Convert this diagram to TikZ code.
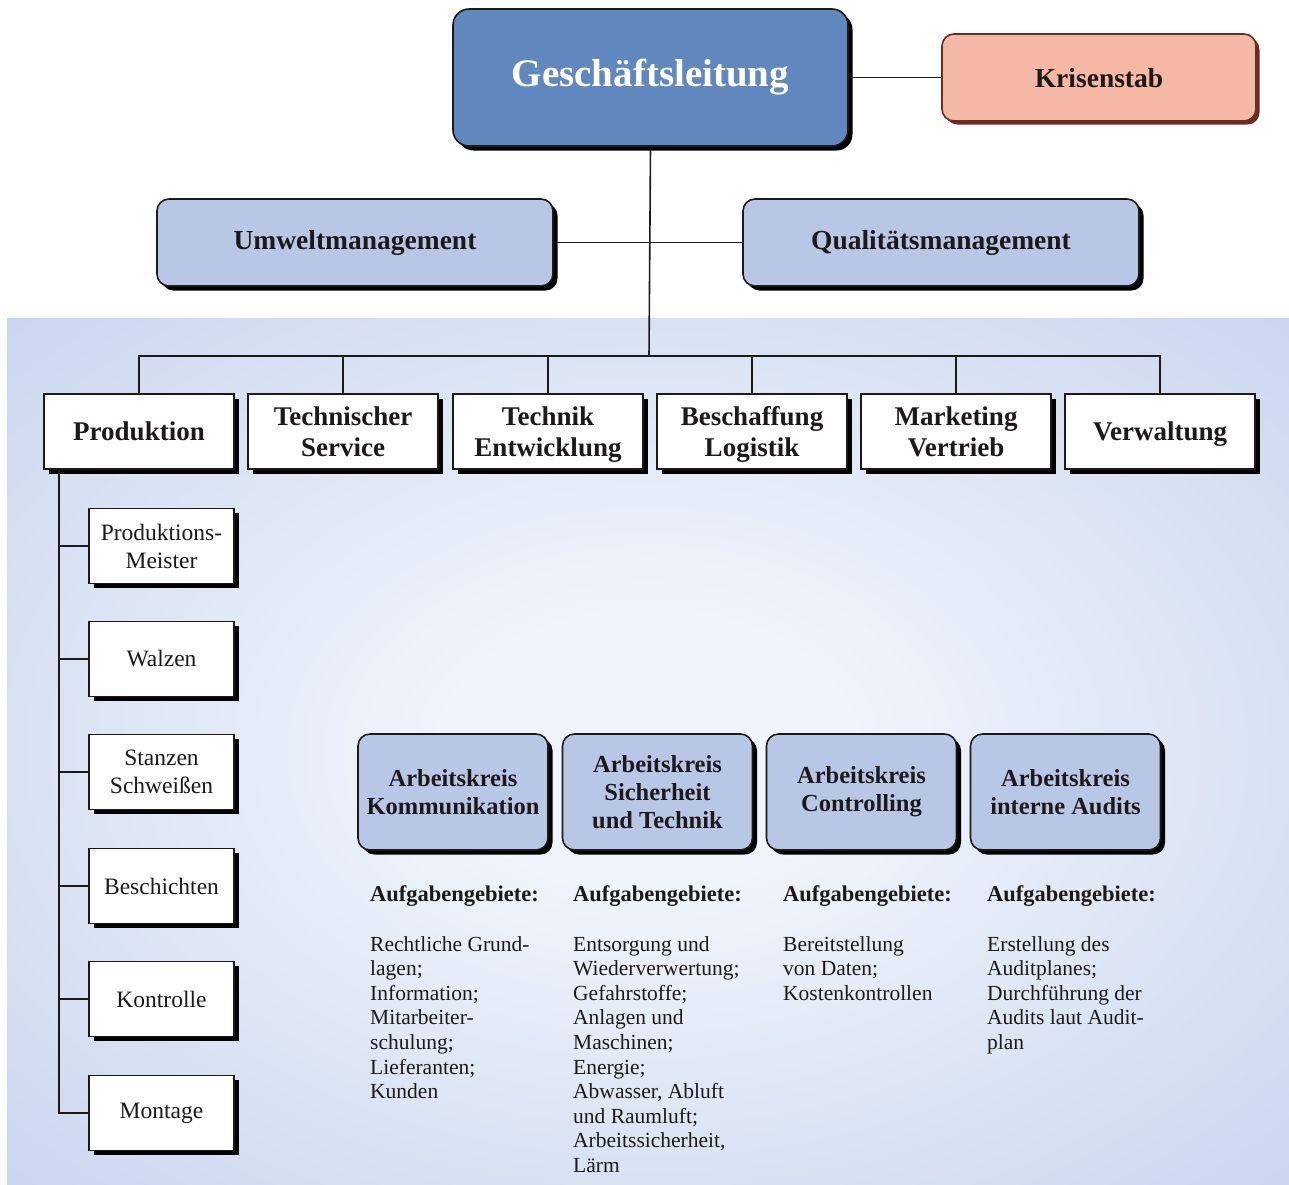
\documentclass[tikz,border=0pt]{standalone}
\usepackage{fontspec}
\setmainfont{Liberation Serif}
\usetikzlibrary{shadows}

\definecolor{glblue}{RGB}{96,136,191}
\definecolor{paleblue}{RGB}{185,199,231}
\definecolor{krisfill}{RGB}{244,184,164}
\definecolor{krisline}{RGB}{105,45,35}
\definecolor{bgedge}{RGB}{184,201,232}
\definecolor{bgcenter}{RGB}{240,244,251}
\definecolor{ink}{RGB}{30,25,25}

% soft panel behind the lower part of the chart
\pgfdeclareradialshading{panelshade}{\pgfpoint{0bp}{0bp}}{%
  color(0bp)=(bgcenter); color(8bp)=(bgcenter);
  color(48bp)=(bgedge); color(80bp)=(bgedge)}

\tikzset{
  shad/.style={drop shadow={shadow xshift=4.5pt, shadow yshift=-4.5pt,
                            fill=black, opacity=1}},
  boxline/.style={draw=ink, line width=1.6pt},
  conn/.style={draw=ink, line width=1.6pt},
  gltop/.style={boxline, shad, fill=glblue, rounded corners=16pt,
                minimum width=395pt, minimum height=137pt, text=white,
                font=\fontsize{39}{44}\selectfont\bfseries},
  krisbox/.style={draw=krisline, line width=1.6pt, fill=krisfill,
                  rounded corners=12pt,
                  drop shadow={shadow xshift=3.5pt, shadow yshift=-3.5pt,
                               fill=krisline, opacity=1},
                  minimum width=314pt, minimum height=87pt, text=ink,
                  font=\fontsize{27.5}{31}\selectfont\bfseries},
  staffbox/.style={boxline, shad, fill=paleblue, rounded corners=12pt,
                   minimum width=396pt, minimum height=87pt, text=ink,
                   font=\fontsize{27.5}{31}\selectfont\bfseries},
  deptbox/.style={boxline, shad, fill=white, align=center,
                  minimum width=190pt, minimum height=75pt, text=ink,
                  text depth=0pt,
                  font=\fontsize{27}{31}\selectfont\bfseries},
  subbox/.style={boxline, shad, fill=white, align=center,
                 minimum width=145pt, minimum height=75pt, text=ink,
                 font=\fontsize{23.5}{28}\selectfont},
  akbox/.style={boxline, shad, fill=paleblue, rounded corners=12pt,
                align=center, minimum width=190pt, minimum height=116pt,
                text=ink, font=\fontsize{24.5}{28}\selectfont\bfseries},
  taskhead/.style={anchor=base west, inner sep=0pt, text=ink,
                   font=\fontsize{22.5}{26}\selectfont\bfseries},
  tasklist/.style={anchor=north west, inner sep=0pt, align=left, text=ink,
                   font=\fontsize{21.5}{24.6}\selectfont},
}

\begin{document}
\begin{tikzpicture}[x=1pt,y=-1pt]
  \useasboundingbox (0,0) rectangle (1289,1184);
  \shade[shading=panelshade] (7,318) rectangle (1289,1184);

  % top management and staff units
  \node[gltop]    (gl)   at (650.5,77.5) {Geschäftsleitung};
  \node[krisbox, text depth=0pt] (kris) at (1099,77.5) {Krisenstab};
  \node[staffbox] (um)   at (355,242.5)  {Umweltmanagement};
  \node[staffbox] (qm)   at (941,242.5)  {Qualitätsmanagement};

  % departments
  \node[deptbox] (prod) at (139,431.5)  {Produktion};
  \node[deptbox] (ts)   at (343,431.5)  {Technischer\\Service};
  \node[deptbox] (te)   at (548,431.5)  {Technik\\Entwicklung};
  \node[deptbox] (bl)   at (752,431.5)  {Beschaffung\\Logistik};
  \node[deptbox] (mv)   at (956,431.5)  {Marketing\\Vertrieb};
  \node[deptbox] (vw)   at (1160,431.5) {Verwaltung};

  % production units
  \node[subbox] (pm) at (161.5,546)  {Produktions-\\Meister};
  \node[subbox] (wa) at (161.5,659)  {Walzen};
  \node[subbox] (ss) at (161.5,772)  {Stanzen\\Schweißen};
  \node[subbox] (bs) at (161.5,886)  {Beschichten};
  \node[subbox] (ko) at (161.5,999)  {Kontrolle};
  \node[subbox] (mo) at (161.5,1113) {Montage};

  % working groups
  \node[akbox] (ak1) at (453,792)    {Arbeitskreis\\Kommunikation};
  \node[akbox] (ak2) at (657.5,792)  {Arbeitskreis\\Sicherheit\\und Technik};
  \node[akbox] (ak3) at (861.5,792)  {Arbeitskreis\\Controlling};
  \node[akbox] (ak4) at (1065.5,792) {Arbeitskreis\\interne Audits};

  % connectors
  \coordinate (hub)  at (649,356);
  \coordinate (ptop) at (59,469);
  \draw[conn] (gl.east) -- (kris.west);
  \draw[conn] (um.east) -- (qm.west);
  \draw[conn] (gl.south) -- (hub);
  \foreach \d in {prod,ts,te,bl,mv,vw}
    \draw[conn] (hub) -| (\d.north);
  \foreach \s in {pm,wa,ss,bs,ko,mo}
    \draw[conn] (ptop) |- (\s.west);

  % task descriptions
  \node[taskhead] (h1) at (370,901) {Aufgabengebiete:};
  \node[taskhead] (h2) at (573,901) {Aufgabengebiete:};
  \node[taskhead] (h3) at (783,901) {Aufgabengebiete:};
  \node[taskhead] (h4) at (987,901) {Aufgabengebiete:};

  \node[tasklist] (t1) at (370,936) {Rechtliche Grund-\\lagen;\\Information;\\Mitarbeiter-\\schulung;\\Lieferanten;\\Kunden};
  \node[tasklist] (t2) at (573,936) {Entsorgung und\\Wiederverwertung;\\Gefahrstoffe;\\Anlagen und\\Maschinen;\\Energie;\\Abwasser, Abluft\\und Raumluft;\\Arbeitssicherheit,\\Lärm};
  \node[tasklist] (t3) at (783,936) {Bereitstellung\\von Daten;\\Kostenkontrollen};
  \node[tasklist] (t4) at (987,936) {Erstellung des\\Auditplanes;\\Durchführung der\\Audits laut Audit-\\plan};
\end{tikzpicture}
\end{document}
